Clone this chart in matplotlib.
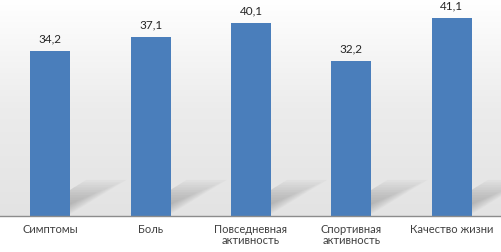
import numpy as np
import matplotlib.pyplot as plt
from matplotlib.colors import LinearSegmentedColormap
from matplotlib.patches import Polygon

categories = ['Симптомы', 'Боль', 'Повседневная\nактивность', 'Спортивная\nактивность', 'Качество жизни']
values = [34.2, 37.1, 40.1, 32.2, 41.1]
value_labels = ['34,2', '37,1', '40,1', '32,2', '41,1']

plt.rcParams['font.family'] = ['Lato', 'DejaVu Sans']

fig = plt.figure(figsize=(5.02, 2.53), dpi=100)
fig.patch.set_facecolor('white')
ax = fig.add_axes([0, 36 / 253, 1, 217 / 253])

# soft grey gradient background, white at the top
grad = np.linspace(0, 1, 256).reshape(-1, 1)
bg = LinearSegmentedColormap.from_list('bg', ['#ffffff', '#ececec', '#e3e3e3'])
ax.imshow(grad, extent=[-0.5, 4.5, 0, 45], aspect='auto', origin='upper',
          cmap=bg, vmin=0, vmax=1, zorder=0)

x = np.arange(len(categories))
width = 0.4

# blurred perspective shadows behind bars
for xi in x:
    l, r = xi - width / 2, xi + width / 2
    for k in range(10):
        s = 1 - k * 0.07
        dx, dy = 0.56 * s, 7.5 * s
        poly = Polygon([(l, 0.4), (r - 0.02 * k, 0.4), (r + dx - 0.02 * k, dy), (l + dx, dy)],
                       closed=True, facecolor='#7a7a7a', edgecolor='none', alpha=0.05, zorder=1)
        ax.add_patch(poly)

bars = ax.bar(x, values, width=width, color='#4a7ebb', zorder=2)
for b, lab in zip(bars, value_labels):
    ax.text(b.get_x() + b.get_width() / 2, b.get_height() + 1.5, lab,
            ha='center', va='bottom', fontsize=8.5, color='#262626', zorder=3)

ax.set_xlim(-0.5, 4.5)
ax.set_ylim(0, 45)
ax.set_xticks(x)
ax.set_xticklabels(categories, fontsize=8, color='#404040', linespacing=1.05)
ax.tick_params(axis='x', length=0, pad=5)
ax.set_yticks([])
for sp in ['top', 'left', 'right']:
    ax.spines[sp].set_visible(False)
ax.spines['bottom'].set_color('#8c8c8c')
ax.spines['bottom'].set_linewidth(1)

fig.savefig('out.png', dpi=100)
